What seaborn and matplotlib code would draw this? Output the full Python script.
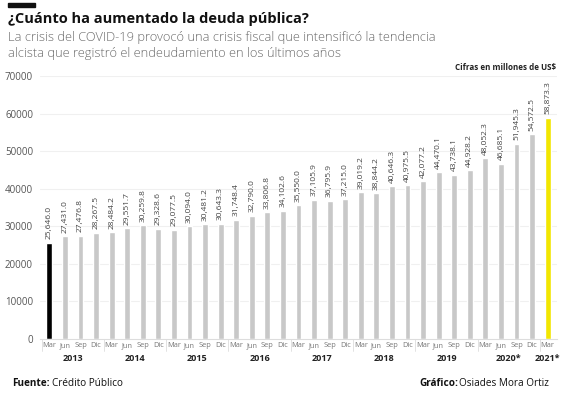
import matplotlib
matplotlib.use("Agg")
import matplotlib.pyplot as plt
import seaborn as sns
import pandas as pd

periods = ["Mar", "Jun", "Sep", "Dic"] * 8 + ["Mar"]
years = ["2013", "2014", "2015", "2016", "2017", "2018", "2019", "2020*", "2021*"]
values = [25646.0, 27431.0, 27476.8, 28267.5,
          28484.2, 29551.7, 30259.8, 29328.6,
          29077.5, 30094.0, 30481.2, 30643.3,
          31748.4, 32790.0, 33806.8, 34102.6,
          35550.0, 37105.9, 36795.9, 37215.0,
          39019.2, 38844.2, 40646.3, 40975.5,
          42077.2, 44470.1, 43738.1, 44928.2,
          48052.3, 46685.1, 51945.3, 54572.5,
          58873.3]
yticks = [0, 10000, 20000, 30000, 40000, 50000, 60000, 70000]

n = len(values)
df = pd.DataFrame({"idx": [str(i) for i in range(n)], "value": values})
colors = ["#000000"] + ["#c8c8c8"] * (n - 2) + ["#f2e600"]

sns.set_theme(style="white")
plt.rcParams["font.family"] = ["Open Sans", "DejaVu Sans"]

fig = plt.figure(figsize=(5.76, 3.98), dpi=100)
ax = fig.add_axes([40 / 576, 1 - 339 / 398, 517 / 576, 263 / 398])
sns.barplot(data=df, x="idx", y="value", hue="idx", palette=colors,
            legend=False, width=0.38, ax=ax, saturation=1)

ax.set_ylim(0, 70000)
ax.set_xlim(-0.6, n - 0.4)
ax.set_yticks(yticks)
ax.set_yticklabels([str(t) for t in yticks], fontsize=7, color="#555555")
ax.tick_params(axis="y", length=0, pad=5)
ax.set_xticks(range(n))
ax.set_xticklabels(periods, fontsize=5.3, color="#777777")
ax.tick_params(axis="x", length=0, pad=2)
ax.set_xlabel("")
ax.set_ylabel("")
for y in yticks[1:]:
    ax.axhline(y, color="#f0f0f0", lw=0.8, zorder=0)
for s in ["top", "right", "left"]:
    ax.spines[s].set_visible(False)
ax.spines["bottom"].set_color("#dddddd")
ax.spines["bottom"].set_linewidth(0.8)

for i, v in enumerate(values):
    ax.text(i, v + 900, f"{v:,.1f}", rotation=90, ha="center", va="bottom",
            fontsize=6, color="#444444")

# year labels and separators
trans = ax.get_xaxis_transform()
for k, yr in enumerate(years):
    start = 4 * k
    end = min(4 * k + 3, n - 1)
    ax.text((start + end) / 2, -0.057, yr, transform=trans, ha="center",
            va="top", fontsize=6.5, fontweight="bold", color="#222222")
    ax.plot([start - 0.5, start - 0.5], [0, -0.045], transform=trans,
            color="#dddddd", lw=0.6, clip_on=False)

# header
fig.add_artist(plt.Rectangle((8 / 576, 1 - 7 / 398), 27 / 576, 4 / 398,
                             color="#111111", transform=fig.transFigure))
fig.text(8 / 576, 1 - 19 / 398, "¿Cuánto ha aumentado la deuda pública?",
         fontsize=10.5, fontweight="bold", color="#111111", va="center")
fig.text(8 / 576, 1 - 38 / 398, "La crisis del COVID-19 provocó una crisis fiscal que intensificó la tendencia",
         fontsize=9.3, color="#6a6a6a", va="center", fontweight="light")
fig.text(8 / 576, 1 - 53 / 398, "alcista que registró el endeudamiento en los últimos años",
         fontsize=9.3, color="#6a6a6a", va="center", fontweight="light")
fig.text(556 / 576, 1 - 67 / 398, "Cifras en millones de US$", fontsize=5.8,
         fontweight="bold", color="#222222", ha="right", va="center")

# footer
fig.text(12 / 576, 1 - 383 / 398, "Fuente:", fontsize=7.2, fontweight="bold",
         color="#111111", va="center")
fig.text(52 / 576, 1 - 383 / 398, "Crédito Público", fontsize=7.2,
         color="#111111", va="center")
fig.text(549 / 576, 1 - 383 / 398, "Osiades Mora Ortiz", fontsize=7.2,
         color="#111111", va="center", ha="right")
fig.text(458 / 576, 1 - 383 / 398, "Gráfico:", fontsize=7.2, fontweight="bold",
         color="#111111", va="center", ha="right")

fig.savefig("out.png", dpi=100, facecolor="white")
